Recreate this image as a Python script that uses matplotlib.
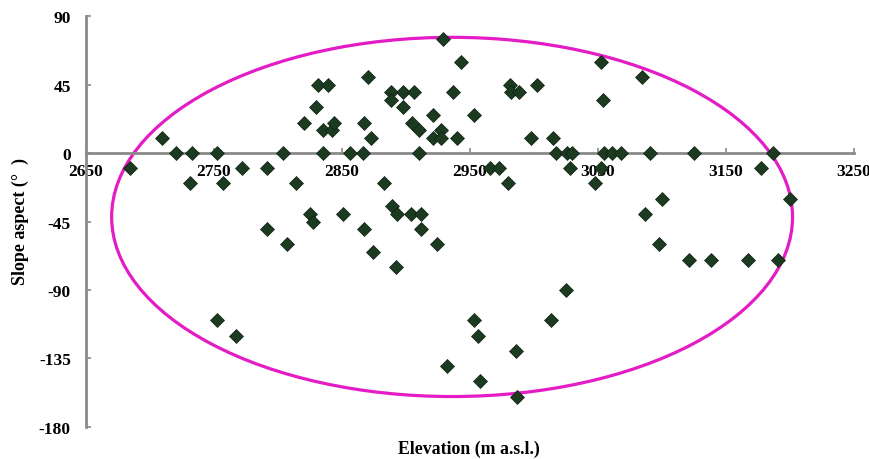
import numpy as np
import matplotlib
matplotlib.use("Agg")
import matplotlib.pyplot as plt
from matplotlib.patches import Ellipse

# elevation (m a.s.l.) and slope aspect (degrees)
elevation = [2684, 2709, 2720, 2733, 2731, 2752, 2757, 2772, 2752, 2767,
             2791, 2791, 2804, 2807, 2814, 2820, 2825, 2827, 2830, 2831,
             2839, 2835, 2835, 2842, 2844, 2851, 2856, 2866, 2867, 2867,
             2870, 2873, 2874, 2883, 2888, 2888, 2889, 2893, 2892, 2898,
             2898, 2904, 2906, 2905, 2910, 2910, 2912, 2912, 2921, 2921,
             2924, 2927, 2927, 2929, 2932, 2937, 2940, 2943, 2953, 2953,
             2956, 2958, 2966, 2973, 2980, 2981, 2982, 2986, 2987, 2988,
             2998, 3002, 3013, 3015, 3017, 3025, 3026, 3028, 3030, 3048,
             3052, 3052, 3054, 3055, 3061, 3068, 3084, 3087, 3091, 3098,
             3100, 3121, 3125, 3138, 3167, 3177, 3187, 3191, 3200]
aspect = [-10, 10, 0, 0, -20, 0, -20, -10, -110, -120,
          -10, -50, 0, -60, -20, 20, -40, -45, 30, 45,
          45, 0, 15, 15, 20, -40, 0, 0, 20, -50,
          50, 10, -65, -20, 40, 35, -35, -40, -75, 40,
          30, -40, 40, 20, 15, 0, -40, -50, 25, 10,
          -60, 15, 10, 75, -140, 40, 10, 60, 25, -110,
          -120, -150, -10, -10, -20, 45, 40, -130, -160, 40,
          10, 45, -110, 10, 0, -90, 0, -10, 0, -20,
          -10, 60, 35, 0, 0, 0, 50, -40, 0, -60,
          -30, -70, 0, -70, -70, -10, 0, -70, -30]

x_ticks = [2650, 2750, 2850, 2950, 3050, 3150, 3250]
y_ticks = [90, 45, 0, -45, -90, -135, -180]

# envelope ellipse: centre, width, height in data units
ell_center = (2936, -42)
ell_width = 532
ell_height = 236

plt.rcParams['font.family'] = ['Liberation Serif', 'DejaVu Serif']
plt.rcParams['font.weight'] = 'bold'
plt.rcParams['axes.unicode_minus'] = False  # plain hyphen like the original

fig = plt.figure(figsize=(8.7, 4.6), dpi=100)
ax = fig.add_axes([0.0989, 0.0696, 0.8827, 0.8934])

ax.plot(elevation, aspect, linestyle='none', marker='D', markersize=7,
        color='#1b3a20', markeredgecolor='#0f2412', markeredgewidth=0.5, zorder=3)

ax.add_patch(Ellipse(ell_center, ell_width, ell_height, fill=False,
                     edgecolor='#e31cc6', linewidth=2.3, zorder=2))

ax.set_xlim(2650, 3250)
ax.set_ylim(-180, 90)
ax.set_xticks(x_ticks)
ax.set_yticks(y_ticks)

# excel-like axes: x axis crosses at zero, grey lines
ax.spines['top'].set_visible(False)
ax.spines['right'].set_visible(False)
ax.spines['bottom'].set_position(('data', 0))
for s in ['left', 'bottom']:
    ax.spines[s].set_color('#8a8a8a')
    ax.spines[s].set_linewidth(2)

ax.tick_params(axis='both', direction='in', length=3.5, width=1.2,
               color='#8a8a8a', labelsize=12.5)
ax.tick_params(axis='x', pad=7)
ax.tick_params(axis='y', pad=11)
for lab in ax.get_xticklabels() + ax.get_yticklabels():
    lab.set_fontweight('bold')

fig.text(0.539, 0.024, 'Elevation (m a.s.l.)', ha='center', va='center',
         fontsize=12.8, fontweight='bold')
fig.text(0.023, 0.518, 'Slope aspect (°  )', ha='center', va='center',
         rotation=90, fontsize=13, fontweight='bold')

fig.savefig('out.png', dpi=100)
